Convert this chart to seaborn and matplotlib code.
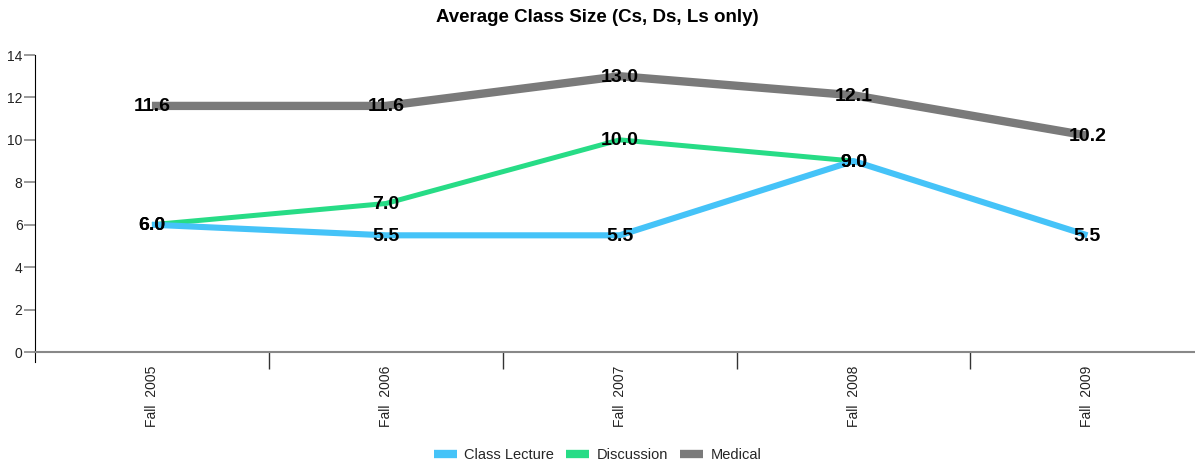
import matplotlib
matplotlib.use("Agg")
import numpy as np
import pandas as pd
from matplotlib import pyplot as plt
from matplotlib.lines import Line2D
import seaborn as sns

terms = ["Fall  2005", "Fall  2006", "Fall  2007", "Fall  2008", "Fall  2009"]
class_lecture = [6.0, 5.5, 5.5, 9.0, 5.5]
discussion = [6.0, 7.0, 10.0, 9.0, np.nan]
medical = [11.6, 11.6, 13.0, 12.1, 10.2]

series = ["Class Lecture", "Discussion", "Medical"]
colors = {"Class Lecture": "#45c3f8", "Discussion": "#27dc86", "Medical": "#7a7a7a"}
widths = {"Class Lecture": 4.4, "Discussion": 3.6, "Medical": 6.0}

rows = []
for name, vals in zip(series, [class_lecture, discussion, medical]):
    for i, v in enumerate(vals):
        rows.append({"term": i, "value": v, "series": name})
df = pd.DataFrame(rows)

sns.set_style("white")
plt.rcParams['font.family'] = ['Liberation Sans', 'DejaVu Sans']

fig = plt.figure(figsize=(11.95, 4.65), dpi=100)
ax = fig.add_axes([35 / 1195, 1 - 352 / 465, 1 - 35 / 1195, (352 - 55) / 465])

# medical first so the thinner lines sit on top
for name in ["Medical", "Discussion", "Class Lecture"]:
    sub = df[df.series == name].dropna()
    sns.lineplot(data=sub, x="term", y="value", ax=ax, color=colors[name],
                 linewidth=widths[name], legend=False, solid_capstyle="butt")

for name in series:
    sub = df[df.series == name].dropna()
    for _, r in sub.iterrows():
        ax.text(r.term, r.value - 0.05, f"{r.value:.1f}", ha="center", va="center",
                fontsize=14, fontweight="bold", color="black", zorder=5)

ax.set_ylim(0, 14)
ax.set_yticks(range(0, 15, 2))
ax.set_xlim(-0.5, 4.46)
ax.set_xticks(range(len(terms)))
ax.set_xticklabels(terms, rotation=90, fontsize=10, color="#222222")
ax.tick_params(axis="x", which="major", bottom=False, length=0, pad=10)
ax.set_xticks(np.arange(0.5, len(terms) - 0.5, 1), minor=True)
ax.tick_params(axis="x", which="minor", bottom=True, length=12, color="#333333", width=1)
ax.tick_params(axis="y", left=True, length=8, width=1.2, color="#888888",
               labelsize=10, labelcolor="#222222", pad=1)
ax.set_xlabel("")
ax.set_ylabel("")

for s in ["top", "right"]:
    ax.spines[s].set_visible(False)
ax.spines["left"].set_color("black")
ax.spines["left"].set_bounds(-0.45, 14)
ax.spines["bottom"].set_color("#888888")
ax.spines["bottom"].set_linewidth(1.5)

fig.text(0.5, 1 - 18 / 465, "Average Class Size (Cs, Ds, Ls only)", ha="center", va="center",
         fontsize=13.5, fontweight="bold", color="black")

handles = [Line2D([0], [0], color=colors[n], linewidth=6, solid_capstyle="butt") for n in series]
fig.legend(handles, series, loc="center", bbox_to_anchor=(0.5, 1 - 455 / 465), ncol=3,
           frameon=False, fontsize=10.5, handlelength=1.6, columnspacing=0.8, handletextpad=0.5)

fig.savefig("out.png", dpi=100)
